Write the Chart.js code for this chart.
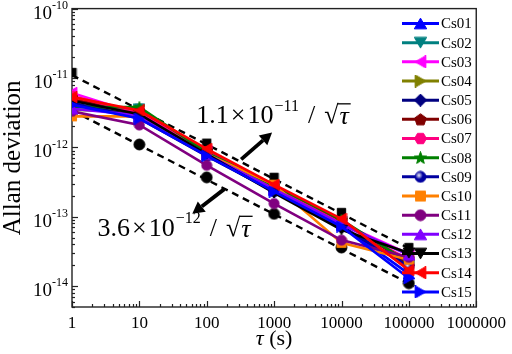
<!DOCTYPE html>
<html>
<head>
<meta charset="utf-8">
<script src="https://cdn.jsdelivr.net/npm/chart.js@4.4.0/dist/chart.umd.min.js"></script>
<style>
html, body { margin: 0; padding: 0; background: #fff; }
</style>
</head>
<body>
<canvas id="allanChart" width="512" height="354"></canvas>
<script>
// averaging times (s)
var tau = [1, 10, 100, 1000, 10000, 100000];

// Allan deviation of each clock
var cs01 = [4.4e-12, 2.7e-12, 7.7e-13, 2.4e-13, 7.5e-14, 1.5e-14];
var cs02 = [4.0e-12, 3.6e-12, 8.3e-13, 2.6e-13, 8.5e-14, 2.2e-14];
var cs03 = [6.1e-12, 3.0e-12, 8.8e-13, 2.7e-13, 8.0e-14, 2.9e-14];
var cs04 = [3.5e-12, 3.2e-12, 8.0e-13, 2.8e-13, 8.2e-14, 2.3e-14];
var cs05 = [4.2e-12, 2.8e-12, 7.8e-13, 2.3e-13, 7.0e-14, 2.0e-14];
var cs06 = [4.9e-12, 3.3e-12, 8.7e-13, 2.7e-13, 8.8e-14, 2.1e-14];
var cs07 = [5.5e-12, 3.1e-12, 8.6e-13, 2.6e-13, 8.0e-14, 2.4e-14];
var cs08 = [3.8e-12, 3.8e-12, 8.4e-13, 2.8e-13, 9.0e-14, 2.2e-14];
var cs09 = [4.3e-12, 2.6e-12, 7.5e-13, 2.3e-13, 7.3e-14, 1.9e-14];
var cs10 = [2.8e-12, 2.8e-12, 8.0e-13, 2.9e-13, 4.2e-14, 2.4e-14];
var cs11 = [3.3e-12, 2.1e-12, 5.5e-13, 1.55e-13, 4.6e-14, 2.6e-14];
var cs12 = [3.6e-12, 2.9e-12, 7.9e-13, 2.5e-13, 7.8e-14, 2.8e-14];
var cs13 = [4.7e-12, 3.0e-12, 8.0e-13, 2.2e-13, 6.5e-14, 3.0e-14];
var cs14 = [5.3e-12, 3.4e-12, 9.5e-13, 2.9e-13, 9.3e-14, 1.7e-14];
var cs15 = [4.1e-12, 2.6e-12, 7.6e-13, 2.3e-13, 7.2e-14, 1.3e-14];

// black reference points on the two limit lines
var upperPts = [1.2e-11, 3.6e-12, 1.15e-12, 3.7e-13, 1.15e-13, 3.6e-14];
var lowerPts = [3.5e-12, 1.1e-12, 3.7e-13, 1.1e-13, 3.6e-14, 1.1e-14];

// dashed limit lines (end points)
var fitTau = [1, 120000];
var upperFit = [1.1e-11, 3.2e-14];
var lowerFit = [3.4e-12, 1.0e-14];

var names = ['Cs01', 'Cs02', 'Cs03', 'Cs04', 'Cs05', 'Cs06', 'Cs07', 'Cs08',
             'Cs09', 'Cs10', 'Cs11', 'Cs12', 'Cs13', 'Cs14', 'Cs15'];
var series = [cs01, cs02, cs03, cs04, cs05, cs06, cs07, cs08,
              cs09, cs10, cs11, cs12, cs13, cs14, cs15];
var colors = ['#0000FF', '#008080', '#FF00FF', '#808000', '#000080', '#800000',
              '#FF0080', '#008000', '#0000A0', '#FF8000', '#800080', '#8000FF',
              '#000000', '#FF0000', '#0000FF'];
var shapes = ['up', 'down', 'left', 'right', 'diamond', 'pentagon', 'hexagon', 'star',
              'sphere', 'square', 'circle', 'up', 'down', 'left', 'right'];

var xTickLabels = ['1', '10', '100', '1000', '10000', '100000', '1000000'];
var yDecades = [-10, -11, -12, -13, -14];
var yExpLabels = ['-10', '-11', '-12', '-13', '-14'];

var SERIF = '"Liberation Serif", "Times New Roman", serif';

function makeMarker(shape, color, size) {
  var c = document.createElement('canvas');
  c.width = size; c.height = size;
  var g = c.getContext('2d');
  var m = size / 2;
  g.fillStyle = color;
  g.strokeStyle = color;
  g.lineWidth = 1;
  function poly(n, rot, r, cx, cy) {
    g.beginPath();
    for (var k = 0; k < n; k++) {
      var a = rot + k * 2 * Math.PI / n;
      var px = cx + r * Math.cos(a), py = cy + r * Math.sin(a);
      if (k) g.lineTo(px, py); else g.moveTo(px, py);
    }
    g.closePath();
  }
  var rt = size * 0.55;
  if (shape === 'up') poly(3, -Math.PI / 2, rt, m, m + rt / 4);
  else if (shape === 'down') poly(3, Math.PI / 2, rt, m, m - rt / 4);
  else if (shape === 'left') poly(3, Math.PI, rt, m + rt / 4, m);
  else if (shape === 'right') poly(3, 0, rt, m - rt / 4, m);
  else if (shape === 'diamond') poly(4, -Math.PI / 2, size * 0.48, m, m);
  else if (shape === 'pentagon') poly(5, -Math.PI / 2, size * 0.47, m, m + 0.5);
  else if (shape === 'hexagon') poly(6, 0, size * 0.46, m, m);
  else if (shape === 'square') { g.beginPath(); g.rect(m - size * 0.38, m - size * 0.38, size * 0.76, size * 0.76); }
  else if (shape === 'star') {
    g.beginPath();
    for (var k = 0; k < 10; k++) {
      var a = -Math.PI / 2 + k * Math.PI / 5;
      var r = k % 2 ? size * 0.21 : size * 0.5;
      var px = m + r * Math.cos(a), py = m + 0.5 + r * Math.sin(a);
      if (k) g.lineTo(px, py); else g.moveTo(px, py);
    }
    g.closePath();
  } else {
    g.beginPath();
    g.arc(m, m, size * 0.42, 0, Math.PI * 2);
  }
  g.fill();
  g.stroke();
  if (shape === 'sphere') {
    var grad = g.createRadialGradient(m - 1.5, m - 1.5, 0, m - 1.5, m - 1.5, size * 0.3);
    grad.addColorStop(0, 'rgba(255,255,255,0.95)');
    grad.addColorStop(1, 'rgba(255,255,255,0)');
    g.fillStyle = grad;
    g.beginPath();
    g.arc(m, m, size * 0.42, 0, Math.PI * 2);
    g.fill();
  }
  return c;
}

function pts(xs, ys) {
  return xs.map(function (t, i) { return { x: t, y: ys[i] }; });
}

var chartMarkers = [];
var legendMarkers = [];
var datasets = [];

series.forEach(function (vals, i) {
  chartMarkers.push(makeMarker(shapes[i], colors[i], 12));
  legendMarkers.push(makeMarker(shapes[i], colors[i], 13));
  datasets.push({
    label: names[i],
    data: pts(tau, vals),
    borderColor: colors[i],
    backgroundColor: colors[i],
    borderWidth: 2.6,
    pointStyle: chartMarkers[i],
    pointRadius: 6,
    tension: 0,
    order: 50 - i
  });
});

datasets.push({
  label: 'upperPts',
  data: pts(tau, upperPts),
  showLine: false,
  pointStyle: makeMarker('square', '#000000', 11),
  pointRadius: 6,
  order: 90
});
datasets.push({
  label: 'lowerPts',
  data: pts(tau, lowerPts),
  showLine: false,
  pointStyle: makeMarker('circle', '#000000', 13),
  pointRadius: 6,
  order: 90
});
datasets.push({
  label: 'upperFit',
  data: pts(fitTau, upperFit),
  borderColor: '#000000',
  borderWidth: 2.4,
  borderDash: [7, 5],
  pointRadius: 0,
  order: 100
});
datasets.push({
  label: 'lowerFit',
  data: pts(fitTau, lowerFit),
  borderColor: '#000000',
  borderWidth: 2.4,
  borderDash: [7, 5],
  pointRadius: 0,
  order: 100
});

function drawArrow(ctx, x1, y1, x2, y2) {
  var ang = Math.atan2(y2 - y1, x2 - x1);
  var hl = 12, hw = 6.5;
  var bx = x2 - hl * Math.cos(ang), by = y2 - hl * Math.sin(ang);
  ctx.save();
  ctx.strokeStyle = '#000';
  ctx.fillStyle = '#000';
  ctx.lineWidth = 3.8;
  ctx.beginPath();
  ctx.moveTo(x1, y1);
  ctx.lineTo(bx, by);
  ctx.stroke();
  ctx.beginPath();
  ctx.moveTo(x2, y2);
  ctx.lineTo(bx + hw * Math.sin(ang), by - hw * Math.cos(ang));
  ctx.lineTo(bx - hw * Math.sin(ang), by + hw * Math.cos(ang));
  ctx.closePath();
  ctx.fill();
  ctx.restore();
}

// "a.b × 10^-n / sqrt(tau)" written at left x, middle y
function drawLimitText(ctx, x, y, mant, exp) {
  ctx.save();
  ctx.fillStyle = '#000';
  ctx.strokeStyle = '#000';
  ctx.textBaseline = 'middle';
  ctx.textAlign = 'left';
  ctx.font = '26px ' + SERIF;
  ctx.fillText(mant, x, y);
  x += ctx.measureText(mant).width + 2;
  ctx.fillText('\u00d7', x, y);
  x += ctx.measureText('\u00d7').width + 2;
  ctx.fillText('10', x, y);
  x += ctx.measureText('10').width + 1;
  ctx.font = '16px ' + SERIF;
  ctx.fillText(exp, x, y - 10);
  x += ctx.measureText(exp).width + 9;
  ctx.font = '26px ' + SERIF;
  ctx.fillText('/', x, y);
  x += ctx.measureText('/').width + 9;
  ctx.fillText('\u221a', x, y);
  var rw = ctx.measureText('\u221a').width;
  var sx = x + rw - 1;
  x += rw;
  ctx.font = 'italic 26px ' + SERIF;
  ctx.fillText('\u03c4', x + 1, y + 1);
  var tw = ctx.measureText('\u03c4').width;
  ctx.lineWidth = 1.3;
  ctx.beginPath();
  ctx.moveTo(sx, y - 12.5);
  ctx.lineTo(x + tw + 3, y - 12.5);
  ctx.stroke();
  ctx.restore();
}

var decorPlugin = {
  id: 'decor',
  beforeDatasetsDraw: function (chart) {
    var ctx = chart.ctx, a = chart.chartArea;
    var xs = chart.scales.x, ys = chart.scales.y;
    ctx.save();
    ctx.strokeStyle = '#222';
    ctx.lineWidth = 1.2;
    // inward ticks, left and bottom axes
    for (var d = -15; d <= -10; d++) {
      for (var k = 1; k <= 9; k++) {
        var v = k * Math.pow(10, d);
        if (v < ys.min || v > ys.max) continue;
        var py = Math.round(ys.getPixelForValue(v)) + 0.5;
        ctx.beginPath();
        ctx.moveTo(a.left, py);
        ctx.lineTo(a.left + (k === 1 ? 6 : 3), py);
        ctx.stroke();
      }
    }
    for (var e = 0; e <= 6; e++) {
      for (var j = 1; j <= 9; j++) {
        var u = j * Math.pow(10, e);
        if (u < xs.min || u > xs.max) continue;
        var px = Math.round(xs.getPixelForValue(u)) + 0.5;
        ctx.beginPath();
        ctx.moveTo(px, a.bottom);
        ctx.lineTo(px, a.bottom - (j === 1 ? 6 : 3));
        ctx.stroke();
      }
    }
    ctx.lineWidth = 1.4;
    ctx.strokeRect(a.left, a.top, a.right - a.left, a.bottom - a.top);

    // y tick labels with superscript exponents
    ctx.fillStyle = '#000';
    ctx.textBaseline = 'middle';
    yDecades.forEach(function (d, i) {
      var py = ys.getPixelForValue(Math.pow(10, d));
      ctx.font = '12px ' + SERIF;
      var ew = ctx.measureText(yExpLabels[i]).width;
      var ex = a.left - 4 - ew;
      ctx.textAlign = 'left';
      ctx.fillText(yExpLabels[i], ex, py - 3);
      ctx.font = '19px ' + SERIF;
      ctx.textAlign = 'right';
      ctx.fillText('10', ex, py + 5);
    });

    // axis titles
    ctx.save();
    ctx.translate(13, (a.top + a.bottom) / 2);
    ctx.rotate(-Math.PI / 2);
    ctx.textAlign = 'center';
    ctx.font = '25px ' + SERIF;
    ctx.fillText('Allan deviation', 0, 0);
    ctx.restore();

    ctx.textAlign = 'left';
    ctx.font = 'italic 22px ' + SERIF;
    var t1 = ctx.measureText('\u03c4').width;
    ctx.font = '22px ' + SERIF;
    var t2 = ctx.measureText(' (s)').width;
    var tx = (a.left + a.right) / 2 - (t1 + t2) / 2;
    ctx.font = 'italic 22px ' + SERIF;
    ctx.fillText('\u03c4', tx, 339);
    ctx.font = '22px ' + SERIF;
    ctx.fillText(' (s)', tx + t1, 339);
    ctx.restore();
  },
  afterDatasetsDraw: function (chart) {
    var ctx = chart.ctx;
    var xs = chart.scales.x, ys = chart.scales.y;
    function X(v) { return xs.getPixelForValue(v); }
    function Y(v) { return ys.getPixelForValue(v); }

    // legend inside the plot, right side
    ctx.save();
    ctx.textBaseline = 'middle';
    ctx.textAlign = 'left';
    ctx.font = '15px ' + SERIF;
    ctx.fillStyle = '#000';
    names.forEach(function (n, i) {
      var ly = 23.5 + i * 19.17;
      ctx.strokeStyle = colors[i];
      ctx.lineWidth = 3;
      ctx.beginPath();
      ctx.moveTo(402, ly);
      ctx.lineTo(439, ly);
      ctx.stroke();
      var mk = legendMarkers[i];
      ctx.drawImage(mk, 420.5 - mk.width / 2, ly - mk.height / 2);
      ctx.fillStyle = '#000';
      ctx.fillText(n, 441, ly + 1);
    });
    ctx.restore();

    // limit labels and arrows
    drawLimitText(ctx, X(70), Y(2.8e-12), '1.1', '\u221211');
    drawLimitText(ctx, X(2.4), Y(6.7e-14), '3.6', '\u221212');
    drawArrow(ctx, X(324), Y(6.7e-13), X(931), Y(1.64e-12));
    drawArrow(ctx, X(182), Y(2.5e-13), X(61), Y(1.1e-13));
  }
};

var ctx = document.getElementById('allanChart').getContext('2d');
var allanChart = new Chart(ctx, {
  type: 'line',
  data: { datasets: datasets },
  options: {
    responsive: false,
    animation: false,
    events: [],
    layout: { padding: { top: 5, right: 34, left: 0, bottom: 0 } },
    plugins: {
      legend: { display: false },
      tooltip: { enabled: false }
    },
    scales: {
      x: {
        type: 'logarithmic',
        min: 1,
        max: 1000000,
        grid: { display: false, drawTicks: false },
        border: { display: false },
        ticks: {
          autoSkip: false,
          maxRotation: 0,
          padding: 6,
          color: '#000',
          font: { family: SERIF, size: 17 },
          callback: function (value) {
            var e = Math.log10(value);
            if (Math.abs(e - Math.round(e)) < 1e-9) return xTickLabels[Math.round(e)];
            return '';
          }
        },
        afterFit: function (scale) { scale.height = 47; }
      },
      y: {
        type: 'logarithmic',
        min: 5e-15,
        max: 1e-10,
        grid: { display: false, drawTicks: false },
        border: { display: false },
        ticks: { display: false },
        afterFit: function (scale) { scale.width = 72; }
      }
    }
  },
  plugins: [decorPlugin]
});
</script>
</body>
</html>
